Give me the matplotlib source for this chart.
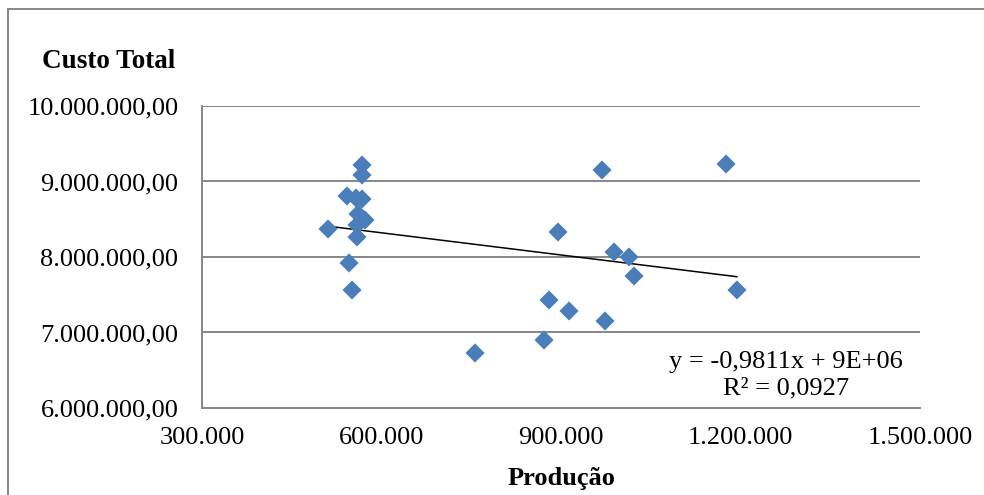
import numpy as np
import matplotlib
matplotlib.use("Agg")
import matplotlib.pyplot as plt
from matplotlib.patches import Rectangle
from matplotlib.ticker import FuncFormatter

# Produção x Custo Total
producao = [567400, 567400, 542300, 557400, 567400, 560700, 572400, 559000,
            559000, 510600, 545700, 550700,
            968500, 1175800, 895000, 988600, 1013600, 1022000, 1194100,
            879900, 913400, 973500, 871600, 756300]
custo_total = [9218500, 9086100, 8808000, 8781500, 8768200, 8569500, 8490100,
               8423800, 8264900, 8370900, 7920500, 7562900,
               9152300, 9231800, 8331100, 8066200, 8000000, 7748400, 7562900,
               7430500, 7284800, 7152300, 6900700, 6728500]
x_ticks = [300000, 600000, 900000, 1200000, 1500000]
y_ticks = [6000000, 7000000, 8000000, 9000000, 10000000]
equacao = "y = -0,9811x + 9E+06\nR² = 0,0927"

plt.rcParams['font.family'] = ['Liberation Serif', 'DejaVu Serif']
grey = '#868686'


def br_fmt(decimals):
    def f(v, pos):
        s = f"{v:,.{decimals}f}"
        return s.replace(",", "X").replace(".", ",").replace("X", ".")
    return FuncFormatter(f)


fig = plt.figure(figsize=(9.84, 4.95), dpi=100)
ax = fig.add_axes([0.2053, 0.1758, 0.7297, 0.6101])

ax.scatter(producao, custo_total, marker='D', s=95, color='#4A7EBB',
           edgecolors='none', zorder=3)

# linear trend line
a, b = np.polyfit(producao, custo_total, 1)
xs = np.array([min(producao), max(producao)])
ax.plot(xs, a * xs + b, color='black', lw=1.1, zorder=2)

ax.set_xlim(x_ticks[0], x_ticks[-1])
ax.set_ylim(y_ticks[0], y_ticks[-1])
ax.set_xticks(x_ticks)
ax.set_yticks(y_ticks)
ax.xaxis.set_major_formatter(br_fmt(0))
ax.yaxis.set_major_formatter(br_fmt(2))
ax.tick_params(length=0, labelsize=19)
ax.tick_params(axis='x', pad=14)
ax.tick_params(axis='y', pad=17)
ax.yaxis.grid(True, color=grey, lw=1.4)
ax.set_axisbelow(True)
for side in ['top', 'right']:
    ax.spines[side].set_visible(False)
for side in ['left', 'bottom']:
    ax.spines[side].set_color(grey)
    ax.spines[side].set_linewidth(1.4)

fig.text(42 / 984, 1 - 62 / 495, 'Custo Total', fontsize=19.5,
         fontweight='bold', va='center', ha='left')
fig.text(561 / 984, 1 - 478 / 495, 'Produção', fontsize=19,
         fontweight='bold', va='center', ha='center')
fig.text(786 / 984, 1 - 375 / 495, equacao, fontsize=19, va='center',
         ha='center', linespacing=1.28)

# chart border
fig.patches.append(Rectangle((8 / 984, -0.2), 1.2, 1.2 - 9 / 495,
                             transform=fig.transFigure, fill=False,
                             edgecolor=grey, lw=1.4))

fig.savefig('out.png', dpi=100)
